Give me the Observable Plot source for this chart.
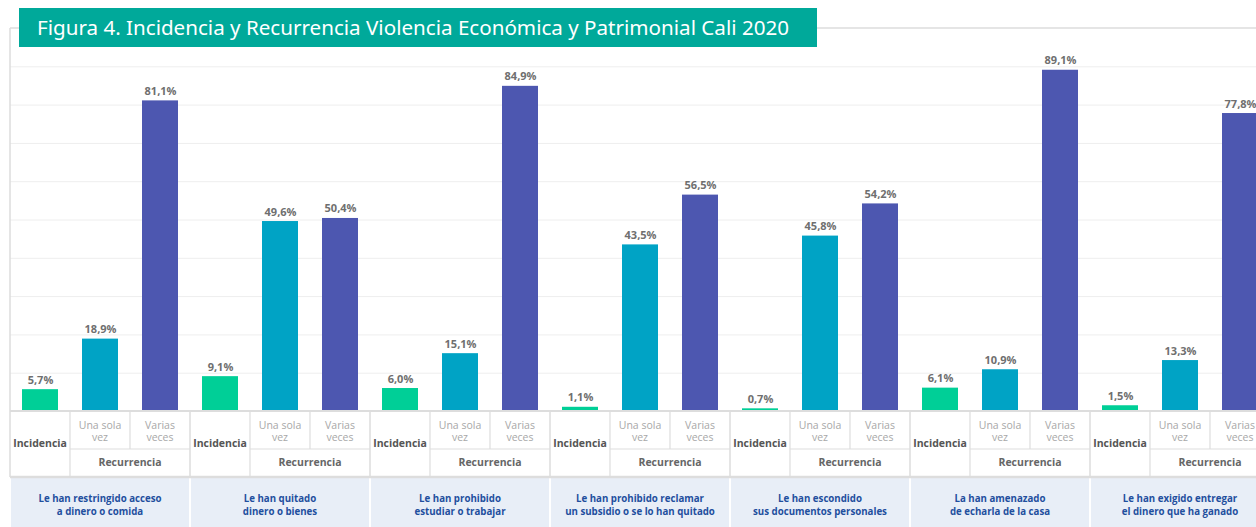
<!DOCTYPE html>
<html>
<head>
<meta charset="utf-8">
<script src="https://cdn.jsdelivr.net/npm/d3@7"></script>
<script src="https://cdn.jsdelivr.net/npm/@observablehq/plot@0.6"></script>
<style>
  html, body { margin: 0; padding: 0; background: #fff; overflow: hidden; }
  #wrap { position: relative; width: 1256px; height: 527px; }
  #chart { position: absolute; left: 0; top: 0; }
  #title {
    position: absolute; left: 19px; top: 8px; width: 798px; height: 39px;
    background: #00a99a; color: #fff; z-index: 2;
    font-family: "Noto Sans", sans-serif; font-size: 20.6px; line-height: 39px;
    padding-left: 18px; box-sizing: border-box; white-space: nowrap;
  }
</style>
</head>
<body>
<div id="wrap">
  <div id="title">Figura 4. Incidencia y Recurrencia Violencia Económica y Patrimonial Cali 2020</div>
  <div id="chart"></div>
</div>
<script>
const groups = [
  "Le han restringido acceso\na dinero o comida",
  "Le han quitado\ndinero o bienes",
  "Le han prohibido\nestudiar o trabajar",
  "Le han prohibido reclamar\nun subsidio o se lo han quitado",
  "Le han escondido\nsus documentos personales",
  "La han amenazado\nde echarla de la casa",
  "Le han exigido entregar\nel dinero que ha ganado"
];
const categories = ["Incidencia", "Una sola vez", "Varias veces"];
const categoryLabels = ["Incidencia", "Una sola\nvez", "Varias\nveces"];
const recurrenceLabel = "Recurrencia";
const incidencia  = [5.7, 9.1, 6.0, 1.1, 0.7, 6.1, 1.5];
const unaSolaVez  = [18.9, 49.6, 15.1, 43.5, 45.8, 10.9, 13.3];
const variasVeces = [81.1, 50.4, 84.9, 56.5, 54.2, 89.1, 77.8];
const colors = ["#00cf97", "#00a3c5", "#4d57b0"];
const gridTicks = [10, 20, 30, 40, 50, 60, 70, 80, 90];

const series = [incidencia, unaSolaVez, variasVeces];
const data = [];
groups.forEach((g, i) => categories.forEach((c, j) => data.push({group: g, cat: c, value: series[j][i]})));
const fmt = v => v.toFixed(1).replace(".", ",") + "%";

const chart = Plot.plot({
  width: 1256,
  height: 527,
  marginLeft: 10,
  marginRight: -14,
  marginTop: 28,
  marginBottom: 116,
  style: {background: "transparent", overflow: "hidden"},
  fx: {domain: groups, padding: 0, axis: null},
  x: {domain: categories, paddingInner: 0.4, paddingOuter: 0.2, axis: null},
  y: {domain: [0, 100], axis: null},
  color: {domain: categories, range: colors},
  marks: [
    Plot.ruleY(gridTicks, {stroke: "#eeeeee", strokeWidth: 1}),
    Plot.barY(data, {fx: "group", x: "cat", y: "value", fill: "cat"}),
    Plot.text(data, {
      fx: "group", x: "cat", y: "value", text: d => fmt(d.value),
      lineAnchor: "bottom", dy: -6, fill: "#6f6f6f", fontWeight: "bold",
      fontSize: 11, fontFamily: "Open Sans, sans-serif"
    })
  ]
});
document.getElementById("chart").appendChild(chart);

// Table below the bars, positioned with Plot's own scales
const fxS = chart.scale("fx");
const yS = chart.scale("y");
const svg = d3.select(chart);
const layer = svg.append("g");
const base = yS.apply(0);
const frameTop = yS.apply(100);
const row1 = base + 38;
const row2 = base + 66;
const bottom = 527;
const step = fxS.bandwidth / categories.length;
const gridColor = "#dddddd";
const font = "Open Sans, sans-serif";
const x0 = fxS.apply(groups[0]);

layer.append("line").attr("x1", x0).attr("x2", 1256).attr("y1", frameTop).attr("y2", frameTop)
  .attr("stroke", gridColor).attr("stroke-width", 1.5);
layer.append("line").attr("x1", x0).attr("x2", x0).attr("y1", frameTop).attr("y2", row2)
  .attr("stroke", gridColor).attr("stroke-width", 1.5);

groups.forEach(grp => {
  const gx = fxS.apply(grp);
  const gw = fxS.bandwidth;
  layer.append("rect").attr("x", gx + 1).attr("y", row2 + 1).attr("width", gw - 2).attr("height", bottom - row2 - 1)
    .attr("fill", "#e8eef7");
  const lines = [
    [gx, base, gx + gw, base, 2],
    [gx + step, row1, gx + gw, row1, 1.2],
    [gx, row2, gx + gw, row2, 2.5],
    [gx + gw, base, gx + gw, row2, 1.5],
    [gx + step, base, gx + step, row2, 1.2],
    [gx + 2 * step, base, gx + 2 * step, row1, 1.2]
  ];
  lines.forEach(([x1, y1, x2, y2, w]) => layer.append("line")
    .attr("x1", x1).attr("y1", y1).attr("x2", x2).attr("y2", y2)
    .attr("stroke", gridColor).attr("stroke-width", w));

  categories.forEach((c, j) => {
    const cx = gx + step * (j + 0.5);
    const lbl = categoryLabels[j].split("\n");
    if (j === 0) {
      layer.append("text").attr("x", cx).attr("y", (base + row2) / 2).attr("text-anchor", "middle")
        .attr("dominant-baseline", "middle").attr("font-family", font).attr("font-size", 10.5)
        .attr("font-weight", "bold").attr("fill", "#555").text(lbl[0]);
    } else {
      const t = layer.append("text").attr("x", cx).attr("text-anchor", "middle").attr("font-family", font)
        .attr("font-size", 10.5).attr("fill", "#a8a8a8");
      lbl.forEach((s, k) => t.append("tspan").attr("x", cx).attr("y", base + 18 + k * 11.5).text(s));
    }
  });
  layer.append("text").attr("x", gx + 2 * step).attr("y", (row1 + row2) / 2).attr("text-anchor", "middle")
    .attr("dominant-baseline", "middle").attr("font-family", font).attr("font-size", 10.5)
    .attr("font-weight", "bold").attr("fill", "#666").text(recurrenceLabel);
  const gl = grp.split("\n");
  const t = layer.append("text").attr("text-anchor", "middle").attr("font-family", font)
    .attr("font-size", 9.7).attr("font-weight", "bold").attr("fill", "#1f4f9e");
  gl.forEach((s, k) => t.append("tspan").attr("x", gx + gw / 2).attr("y", row2 + 25 + k * 13).text(s));
});
</script>
</body>
</html>
